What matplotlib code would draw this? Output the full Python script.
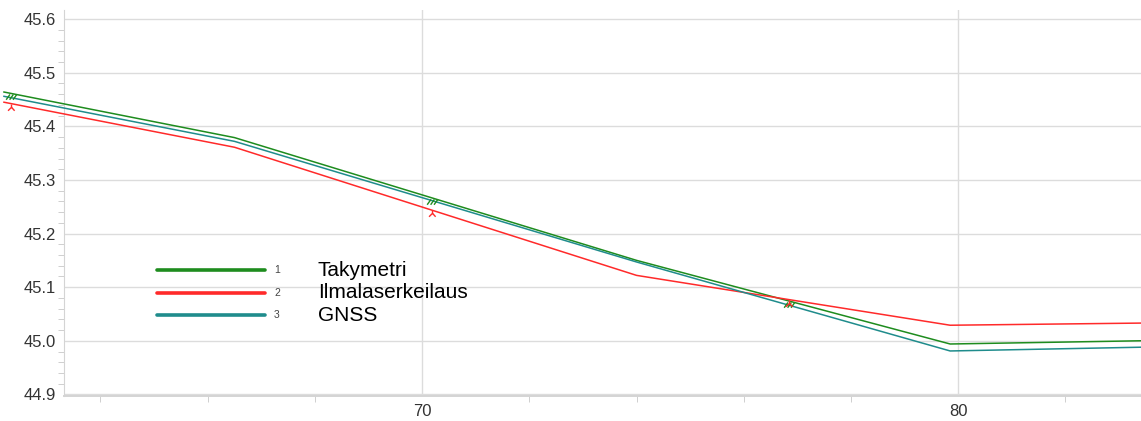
import matplotlib.pyplot as plt
from matplotlib.path import Path
from matplotlib.ticker import MultipleLocator

plt.rcParams['font.family'] = ['Liberation Sans', 'DejaVu Sans']

# profile distance (m) and elevation (m) for each survey method
series_names = ['Takymetri', 'Ilmalaserkeilaus', 'GNSS']
series_colors = ['#1e8c1e', '#ff2a2a', '#1f8c8c']
dist = [62.2, 66.5, 74.0, 79.85, 83.4]
takymetri = [45.464, 45.379, 45.150, 44.994, 45.000]
ilmalaser = [45.445, 45.361, 45.122, 45.029, 45.033]
gnss = [45.456, 45.372, 45.147, 44.981, 44.988]
series = [takymetri, ilmalaser, gnss]

# stations where the point symbols are drawn
mark_dist = [62.33, 70.19, 76.85]

# small custom symbols: three slashes and a lambda-like fork
slash_verts, slash_codes = [], []
for dx in (-0.55, 0.0, 0.55):
    slash_verts += [(dx - 0.3, -1.0), (dx + 0.3, -0.15)]
    slash_codes += [Path.MOVETO, Path.LINETO]
slashes = Path(slash_verts, slash_codes)
fork = Path([(0, 0), (0, -0.45), (-0.55, -1.0), (0, -0.45), (0.5, -1.0)],
            [Path.MOVETO, Path.LINETO, Path.LINETO, Path.MOVETO, Path.LINETO])
symbols = [slashes, fork, None]

fig = plt.figure(figsize=(11.41, 4.21), dpi=100)
ax = fig.add_axes([64 / 1141, 1 - 396 / 421, 1 - 64 / 1141, 386 / 421])

for name, ys, col, sym in zip(series_names, series, series_colors, symbols):
    ax.plot(dist, ys, color=col, lw=1.1, clip_on=False, zorder=3)
    if sym is not None:
        # interpolate along the polyline for symbol placement
        my = []
        for m in mark_dist:
            for i in range(len(dist) - 1):
                if dist[i] <= m <= dist[i + 1]:
                    t = (m - dist[i]) / (dist[i + 1] - dist[i])
                    my.append(ys[i] + t * (ys[i + 1] - ys[i]))
                    break
        ax.plot(mark_dist, my, ls='none', marker=sym, markersize=9,
                markeredgecolor=col, markerfacecolor='none', mew=1.0,
                clip_on=False, zorder=4)

ax.set_xlim(63.32, 83.41)
ax.set_ylim(44.897, 45.617)
ax.xaxis.set_major_locator(MultipleLocator(10))
ax.xaxis.set_minor_locator(MultipleLocator(2))
ax.yaxis.set_major_locator(MultipleLocator(0.1))
ax.yaxis.set_minor_locator(MultipleLocator(0.02))
ax.yaxis.set_major_formatter(lambda v, p: f'{v:.1f}')
ax.xaxis.set_major_formatter(lambda v, p: f'{v:.0f}')

ax.grid(True, which='major', color='#dcdcdc', lw=1.0)
ax.set_axisbelow(True)
for s in ('top', 'right'):
    ax.spines[s].set_visible(False)
ax.spines['left'].set_color('#d4d4d4')
ax.spines['bottom'].set_color('#d4d4d4')
ax.spines['bottom'].set_linewidth(1.4)
ax.tick_params(which='both', colors='#c8c8c8', labelcolor='#333333')
ax.tick_params(axis='y', which='major', length=0, labelsize=12, pad=6)
ax.tick_params(axis='x', which='major', length=0, labelsize=12, pad=6)
ax.tick_params(axis='y', which='minor', length=4)
ax.tick_params(axis='x', which='minor', length=4)

# legend: sample line, index number, series name
for i, (name, col) in enumerate(zip(series_names, series_colors)):
    yl = 1 - (270 + 22.5 * i - 10) / 386
    ax.plot([(157 - 64) / 1077, (265 - 64) / 1077], [yl, yl], color=col,
            lw=2.6, solid_capstyle='round', transform=ax.transAxes)
    ax.text((277 - 64) / 1077, yl, str(i + 1), fontsize=7.5, color='#444444',
            va='center', ha='center', transform=ax.transAxes)
    ax.text((318 - 64) / 1077, yl, name, fontsize=15, color='black',
            va='center', ha='left', transform=ax.transAxes)

fig.savefig('out.png', dpi=100)
